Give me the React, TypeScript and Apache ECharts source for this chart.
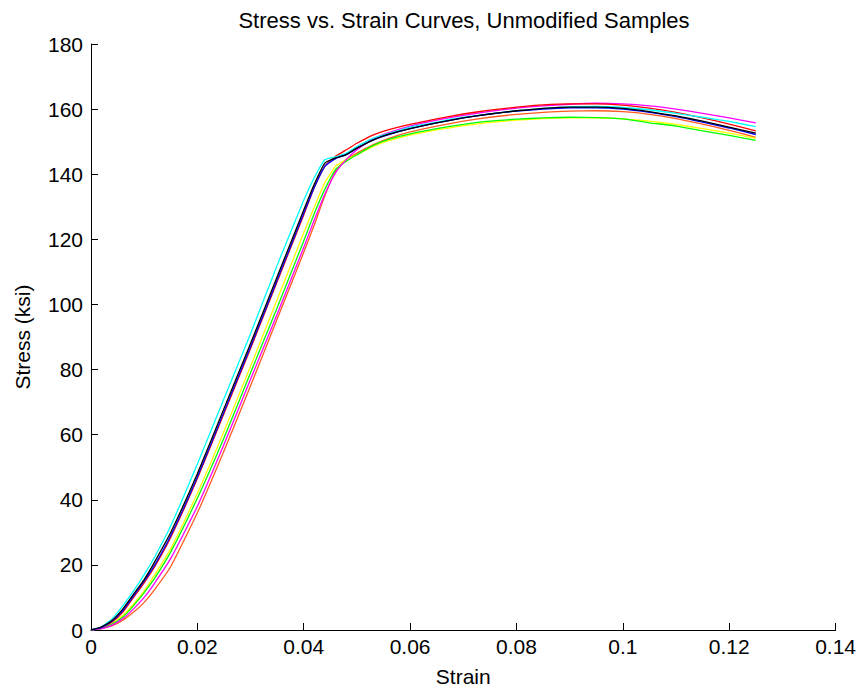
import React, { useEffect, useRef } from "react";
import * as echarts from "echarts";

const strain = [0, 0.002, 0.004, 0.006, 0.008, 0.01, 0.012, 0.015, 0.02, 0.025, 0.03, 0.035, 0.04, 0.042, 0.044, 0.046, 0.048, 0.05, 0.053, 0.056, 0.06, 0.065, 0.07, 0.075, 0.08, 0.085, 0.09, 0.095, 0.1, 0.105, 0.11, 0.115, 0.12, 0.125];

const orangeStress = [0, 0.4, 1.3, 3, 5.5, 8.5, 12.5, 19.5, 36, 55, 75, 95.5, 116, 124.5, 133.5, 141, 144.5, 146.5, 149, 151, 153, 154.8, 156.3, 157.5, 158.4, 159, 159.4, 159.5, 159.2, 158.4, 157.1, 155.4, 153.5, 151.3];
const yellowStress = [0, 0.5, 2, 4.5, 8, 12, 17, 25, 42, 61, 81, 101.5, 122, 130, 137.5, 142.5, 144.5, 146, 148.5, 150.3, 152, 153.6, 154.9, 155.9, 156.6, 157.1, 157.3, 157.3, 157, 156.3, 155.3, 154, 152.6, 151];
const greenStress = [0, 0.5, 1.8, 4, 7.5, 11.5, 16, 24, 40.5, 59, 79, 99, 119.5, 128, 135.5, 141.5, 144, 146, 148.8, 150.7, 152.4, 154, 155.3, 156.3, 156.9, 157.3, 157.5, 157.4, 157, 155.8, 154.8, 153.3, 151.9, 150.4];
const magentaStress = [0, 0.4, 1.5, 3.5, 6.5, 10, 14.5, 22, 38, 57, 77, 97, 117.5, 126, 134, 140.5, 144.5, 147.5, 150.8, 152.8, 154.8, 156.6, 158.1, 159.3, 160.3, 161, 161.5, 161.8, 161.6, 161, 160, 158.7, 157.3, 155.8];
const redStress = [0, 0.8, 2.5, 5.5, 10, 14.5, 19.5, 28.5, 46.5, 66.5, 86.5, 107, 127.5, 136, 142.5, 145.5, 147.5, 149.5, 152, 153.7, 155.3, 157, 158.5, 159.7, 160.6, 161.3, 161.6, 161.6, 161.2, 160.3, 159, 157.3, 155.4, 153.3];
const cyanStress = [0, 1, 3.5, 7.5, 12, 17, 22.5, 32, 51, 71, 91, 112, 132, 139, 144.5, 145.3, 146.5, 148.5, 151, 152.5, 154.5, 156, 157.5, 158.5, 159.5, 160.2, 160.7, 160.8, 160.5, 159.8, 158.7, 157.5, 156.2, 154.6];
const blueStress = [0, 0.8, 2.8, 6, 10.5, 15, 20, 29, 47, 67, 87, 107.5, 128, 136, 142.5, 144.8, 146, 148, 150.5, 152.2, 154, 155.8, 157.3, 158.5, 159.4, 160, 160.4, 160.4, 160, 159, 157.7, 156, 154.2, 152.2];
const blackStress = [0, 1, 3, 6.5, 11, 15.5, 21, 30, 48, 68, 88, 108.5, 129, 137, 143.5, 145, 146, 148, 150.5, 152.3, 154, 155.8, 157.3, 158.5, 159.5, 160.2, 160.6, 160.6, 160.2, 159.2, 157.9, 156.3, 154.5, 152.6];

const xTicks = [0, 0.02, 0.04, 0.06, 0.08, 0.1, 0.12, 0.14];
const yTicks = [0, 20, 40, 60, 80, 100, 120, 140, 160, 180];

const curves: { name: string; color: string; values: number[] }[] = [
  { name: "S1", color: "#FF5A1F", values: orangeStress },
  { name: "S2", color: "#FFFF00", values: yellowStress },
  { name: "S3", color: "#00FF00", values: greenStress },
  { name: "S4", color: "#FF00FF", values: magentaStress },
  { name: "S5", color: "#FF0000", values: redStress },
  { name: "S6", color: "#00FFFF", values: cyanStress },
  { name: "S7", color: "#0000FF", values: blueStress },
  { name: "S8", color: "#000000", values: blackStress },
];

const FONT = "'Liberation Sans', Arial, sans-serif";

export default function App() {
  const ref = useRef<HTMLDivElement>(null);
  useEffect(() => {
    if (!ref.current) return;
    const chart = echarts.init(ref.current, undefined, { renderer: "svg" });
    const fmt = (v: number) => String(parseFloat(Number(v).toFixed(2)));
    chart.setOption({
      animation: false,
      backgroundColor: "#ffffff",
      title: {
        text: "Stress vs. Strain Curves, Unmodified Samples",
        left: 459,
        top: 4,
        textAlign: "center",
        textStyle: { fontFamily: FONT, fontSize: 22, fontWeight: "normal", color: "#000" },
      },
      grid: { left: 91, right: 19, top: 44, bottom: 64, containLabel: false },
      xAxis: {
        type: "value",
        min: xTicks[0],
        max: xTicks[xTicks.length - 1],
        interval: 0.02,
        name: "Strain",
        nameLocation: "middle",
        nameGap: 36,
        nameTextStyle: { fontFamily: FONT, fontSize: 21, color: "#000" },
        axisLine: { show: true, onZero: false, lineStyle: { color: "#000", width: 1 } },
        axisTick: { show: true, inside: true, length: 7, lineStyle: { color: "#000" } },
        axisLabel: { fontFamily: FONT, fontSize: 21, color: "#000", margin: 6, formatter: fmt },
        splitLine: { show: false },
      },
      yAxis: {
        type: "value",
        min: yTicks[0],
        max: yTicks[yTicks.length - 1],
        interval: 20,
        name: "Stress (ksi)",
        nameLocation: "middle",
        nameGap: 58,
        nameTextStyle: { fontFamily: FONT, fontSize: 21, color: "#000" },
        axisLine: { show: true, onZero: false, lineStyle: { color: "#000", width: 1 } },
        axisTick: { show: true, inside: true, length: 7, lineStyle: { color: "#000" } },
        axisLabel: { fontFamily: FONT, fontSize: 21, color: "#000", margin: 8 },
        splitLine: { show: false },
      },
      series: curves.map((c) => ({
        name: c.name,
        type: "line",
        data: strain.map((s, i) => [s, c.values[i]]),
        showSymbol: false,
        smooth: 0.15,
        lineStyle: { color: c.color, width: 1.3 },
        itemStyle: { color: c.color },
      })),
    });
    return () => chart.dispose();
  }, []);
  return <div ref={ref} style={{ width: 859, height: 694, position: "absolute", left: 0, top: 0 }} />;
}
